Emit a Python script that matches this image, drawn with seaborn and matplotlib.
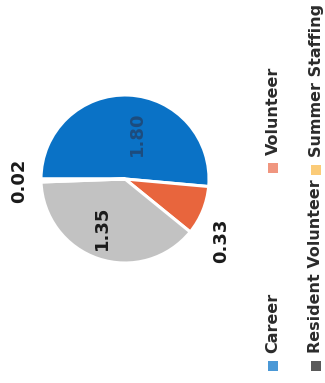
import matplotlib
matplotlib.use("Agg")
import matplotlib.pyplot as plt
import matplotlib.patches as mpatches
import numpy as np
import seaborn as sns

# Staffing mix (FTE)
categories = ["Career", "Volunteer", "Resident Volunteer", "Summer Staffing"]
values = [1.80, 0.33, 1.35, 0.02]
value_labels = ["1.80", "0.33", "1.35", "0.02"]

wedge_colors = ["#0a72c6", "#e8653d", "#c2c2c2", "#f7c260"]
legend_colors = ["#4a98d6", "#f0967f", "#5a5a5a", "#fbcb78"]
career_label_color = "#1d4c7e"

sns.set_theme(style="white")
plt.rcParams["font.family"] = ["DejaVu Sans"]

W, H = 325, 383
fig = plt.figure(figsize=(W / 100, H / 100), dpi=100)
fig.patch.set_facecolor("white")

# pie placed in pixel units (center, radius)
cx, cy, r = 125, 179, 84
ax = fig.add_axes([(cx - r) / W, 1 - (cy + r) / H, 2 * r / W, 2 * r / H])
wedges, _ = ax.pie(values, colors=wedge_colors, startangle=180, counterclock=False,
                   wedgeprops=dict(edgecolor="white", linewidth=2.2))
ax.set_xlim(-1, 1)
ax.set_ylim(-1, 1)
ax.set_aspect("auto")
ax.axis("off")

# label positions in pie radii
label_pos = [(0.14, 0.54), (1.15, -0.74), (-0.28, -0.58), (-1.26, -0.02)]
label_cols = [career_label_color, "#1a1a1a", "#1a1a1a", "#1a1a1a"]
for txt, (lx, ly), col in zip(value_labels, label_pos, label_cols):
    ax.text(lx, ly, txt, rotation=90, ha="center", va="center", fontsize=13,
            fontweight="bold", color=col, clip_on=False)

# legend: two columns of rotated entries
legend_layout = [  # (x center px, text start y px)
    (273, 353), (273, 155), (316, 353), (316, 157)]
for name, col, (lx, ly) in zip(categories, legend_colors, legend_layout):
    fig.patches.append(mpatches.Rectangle(((lx - 5) / W, 1 - (ly + 18) / H), 10 / W, 10 / H,
                                          transform=fig.transFigure, facecolor=col,
                                          edgecolor="none"))
    fig.text(lx / W, 1 - ly / H, name, rotation=90, rotation_mode="anchor",
             ha="left", va="center", fontsize=11.5, fontweight="bold", color="#2b2b2b")

fig.savefig("out.png", dpi=100, facecolor="white")
